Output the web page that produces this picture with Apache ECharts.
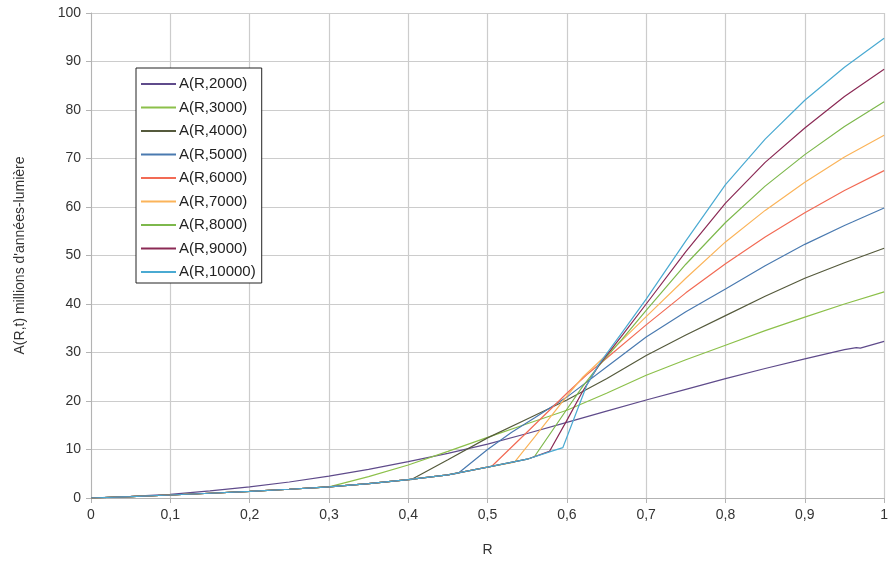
<!DOCTYPE html>
<html>
<head>
<meta charset="utf-8">
<script src="https://cdn.jsdelivr.net/npm/echarts@6/dist/echarts.min.js"></script>
<style>
html,body{margin:0;padding:0;background:#fff;}
#chart{width:891px;height:572px;}
</style>
</head>
<body>
<div id="chart"></div>
<script>
// Shared lower curve followed by each series until its break point
const baseR = [0, 0.05, 0.1, 0.15, 0.2, 0.25, 0.3, 0.35, 0.4, 0.45, 0.5, 0.55, 0.58];
const baseA = [0, 0.3, 0.62, 0.98, 1.35, 1.8, 2.3, 2.95, 3.8, 4.75, 6.35, 8.0, 9.6];

// A(R,2000) – its own full curve
const r2000 = [0, 0.05, 0.1, 0.15, 0.2, 0.25, 0.3, 0.35, 0.4, 0.45, 0.5, 0.55, 0.6, 0.65, 0.7, 0.75, 0.8, 0.85, 0.9, 0.95, 0.965, 0.97, 1.0];
const a2000 = [0, 0.32, 0.75, 1.45, 2.3, 3.3, 4.5, 5.9, 7.5, 9.2, 11.1, 13.3, 15.6, 17.9, 20.2, 22.4, 24.6, 26.7, 28.7, 30.6, 31.0, 30.9, 32.3];

// Tails after the break point
const r3000 = [0.3, 0.35, 0.4, 0.45, 0.5, 0.55, 0.6, 0.65, 0.7, 0.75, 0.8, 0.85, 0.9, 0.95, 1.0];
const a3000 = [2.3, 4.4, 6.8, 9.6, 12.5, 15.3, 18.1, 21.6, 25.3, 28.5, 31.5, 34.5, 37.3, 40.0, 42.5];

const r4000 = [0.404, 0.45, 0.5, 0.55, 0.6, 0.65, 0.7, 0.75, 0.8, 0.85, 0.9, 0.95, 1.0];
const a4000 = [3.8, 7.9, 12.4, 16.3, 20.2, 24.6, 29.4, 33.6, 37.6, 41.6, 45.3, 48.5, 51.5];

const r5000 = [0.463, 0.5, 0.53, 0.56, 0.6, 0.65, 0.7, 0.75, 0.8, 0.85, 0.9, 0.95, 0.96, 1.0];
const a5000 = [5.1, 10.0, 13.5, 16.6, 20.8, 27.0, 33.2, 38.4, 43.1, 47.9, 52.3, 56.2, 56.9, 59.8];

const r6000 = [0.505, 0.55, 0.6, 0.625, 0.65, 0.7, 0.75, 0.8, 0.85, 0.9, 0.95, 1.0];
const a6000 = [6.5, 13.6, 21.6, 25.4, 28.8, 35.7, 42.3, 48.3, 53.8, 58.8, 63.4, 67.5];

const r7000 = [0.534, 0.56, 0.6, 0.62, 0.64, 0.67, 0.7, 0.75, 0.8, 0.85, 0.9, 0.95, 1.0];
const a7000 = [7.4, 12.7, 21.0, 24.9, 28.0, 32.6, 37.4, 45.3, 52.8, 59.3, 65.1, 70.3, 74.8];

const r8000 = [0.559, 0.58, 0.6, 0.62, 0.64, 0.67, 0.7, 0.75, 0.8, 0.85, 0.9, 0.95, 1.0];
const a8000 = [8.5, 13.5, 18.3, 23.0, 27.2, 32.8, 38.7, 48.2, 56.8, 64.3, 70.8, 76.6, 81.7];

const r9000 = [0.578, 0.6, 0.62, 0.64, 0.67, 0.7, 0.75, 0.8, 0.85, 0.9, 0.95, 1.0];
const a9000 = [9.6, 16.0, 22.0, 27.3, 33.6, 40.0, 50.8, 60.8, 69.2, 76.3, 82.8, 88.4];

const r10000 = [0.595, 0.61, 0.625, 0.64, 0.67, 0.7, 0.75, 0.8, 0.85, 0.9, 0.95, 1.0];
const a10000 = [10.4, 16.8, 23.2, 27.5, 34.2, 41.0, 53.0, 64.6, 74.0, 82.0, 88.8, 94.8];

const seriesNames = ['A(R,2000)', 'A(R,3000)', 'A(R,4000)', 'A(R,5000)', 'A(R,6000)', 'A(R,7000)', 'A(R,8000)', 'A(R,9000)', 'A(R,10000)'];
const seriesColors = ['#5f4b8b', '#8cc04a', '#555a3c', '#4a7ab0', '#f26b55', '#fbb45a', '#7db84c', '#8b2a55', '#4aaad2'];

const xTicks = ['0', '0,1', '0,2', '0,3', '0,4', '0,5', '0,6', '0,7', '0,8', '0,9', '1'];

function zip(r, a) { return r.map((v, i) => [v, a[i]]); }
function withBase(r, a) {
  const start = r[0];
  const pre = [];
  for (let i = 0; i < baseR.length; i++) if (baseR[i] < start) pre.push([baseR[i], baseA[i]]);
  return pre.concat(zip(r, a));
}

const tails = [
  null,
  [r3000, a3000], [r4000, a4000], [r5000, a5000], [r6000, a6000],
  [r7000, a7000], [r8000, a8000], [r9000, a9000], [r10000, a10000]
];

const series = seriesNames.map((name, i) => ({
  name: name,
  type: 'line',
  showSymbol: false,
  symbol: 'none',
  lineStyle: { width: 1.2, color: seriesColors[i] },
  itemStyle: { color: seriesColors[i] },
  data: i === 0 ? zip(r2000, a2000) : withBase(tails[i][0], tails[i][1]),
  z: 2 + i
}));

const chart = echarts.init(document.getElementById('chart'), null, { renderer: 'canvas' });
chart.setOption({
  animation: false,
  backgroundColor: '#ffffff',
  textStyle: { fontFamily: 'Liberation Sans, Arial, sans-serif' },
  grid: { left: 91, right: 2, top: 13, bottom: 74, containLabel: false },
  legend: {
    orient: 'vertical',
    left: 136,
    top: 68,
    padding: [8, 6, 3, 5],
    itemGap: 7.5,
    itemWidth: 35,
    itemHeight: 2,
    icon: 'rect',
    backgroundColor: '#ffffff',
    borderColor: '#222222',
    borderWidth: 1,
    borderRadius: 0,
    textStyle: { fontSize: 15, color: '#222222', lineHeight: 16, padding: [0, 0, 0, -2] },
    data: seriesNames
  },
  xAxis: {
    type: 'value',
    min: 0,
    max: 1,
    interval: 0.1,
    name: 'R',
    nameLocation: 'middle',
    nameGap: 45,
    nameTextStyle: { fontSize: 14, color: '#333333' },
    axisLine: { show: true, lineStyle: { color: '#b3b3b3', width: 1 } },
    axisTick: { show: true, length: 5, lineStyle: { color: '#b3b3b3' } },
    axisLabel: {
      fontSize: 14, color: '#333333', margin: 10,
      formatter: function (v) { return xTicks[Math.round(v * 10)]; }
    },
    splitLine: { show: true, lineStyle: { color: '#cccccc', width: 1.2 } }
  },
  yAxis: {
    type: 'value',
    min: 0,
    max: 100,
    interval: 10,
    name: "A(R,t) millions d'années-lumière",
    nameLocation: 'middle',
    nameGap: 64,
    nameRotate: 90,
    nameTextStyle: { fontSize: 14, color: '#333333' },
    axisLine: { show: true, lineStyle: { color: '#b3b3b3', width: 1 } },
    axisTick: { show: true, length: 5, lineStyle: { color: '#b3b3b3' } },
    axisLabel: { fontSize: 14, color: '#333333', margin: 10 },
    splitLine: { show: true, lineStyle: { color: '#cccccc', width: 1.2 } }
  },
  series: series
});
</script>
</body>
</html>
